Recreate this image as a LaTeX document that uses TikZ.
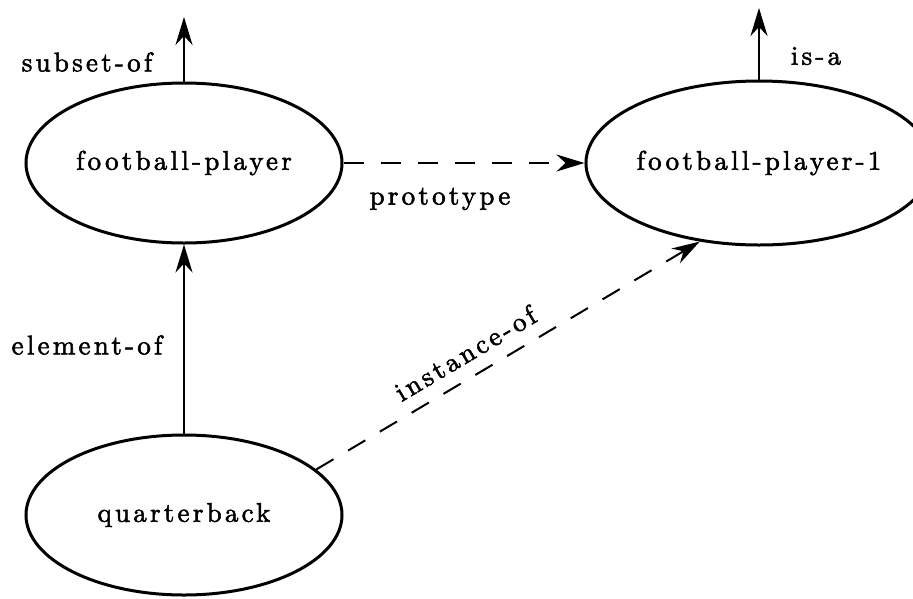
\documentclass[tikz,border=0pt]{standalone}
\usepackage{fontspec}
\usetikzlibrary{shapes.geometric,arrows.meta}
\newfontfamily\lblfont{lmroman10-regular}[Extension=.otf, LetterSpace=12, FakeBold=2]
\begin{document}
\begin{tikzpicture}[x=1pt,y=-1pt,
  concept/.style={ellipse, draw, line width=3pt, inner sep=0pt,
    font=\lblfont\fontsize{27}{30}\selectfont},
  rel/.style={font=\lblfont\fontsize{27}{30}\selectfont, inner sep=0pt},
  tip/.style={-{Stealth[length=28pt,width=17pt,inset=9pt]}},
  link/.style={tip, line width=2pt},
  dlink/.style={tip, line width=2pt, dash pattern=on 20pt off 17pt}]
\useasboundingbox (0,0) rectangle (913,598);

% concept nodes
\node[concept, minimum width=316pt, minimum height=160pt] (fp)  at (184,163) {football-player};
\node[concept, minimum width=302pt, minimum height=164pt] (fp1) at (759,163) {football-player-1};
\node[concept, minimum width=316pt, minimum height=160pt] (qb)  at (184,515) {quarterback};

% free ends of the upward links
\coordinate (fpup)  at (184,17);
\coordinate (fp1up) at (759,8);

% relations
\draw[link]  (fp.north) -- (fpup);
\draw[link]  (fp1.north) -- (fp1up);
\draw[link]  (qb.north) -- (fp.south);
\draw[dlink] (fp.east) -- (fp1.west);
\draw[dlink] (qb.19) -- node[rel, sloped, above=13pt, pos=0.42] (lio) {instance-of} (fp1.233);

% relation labels
\node[rel] (lsub)  at (87,62)   {subset-of};
\node[rel] (lisa)  at (816,56)  {is-a};
\node[rel] (lpro)  at (440,199) {prototype};
\node[rel] (lelem) at (87,345)  {element-of};
\end{tikzpicture}
\end{document}
